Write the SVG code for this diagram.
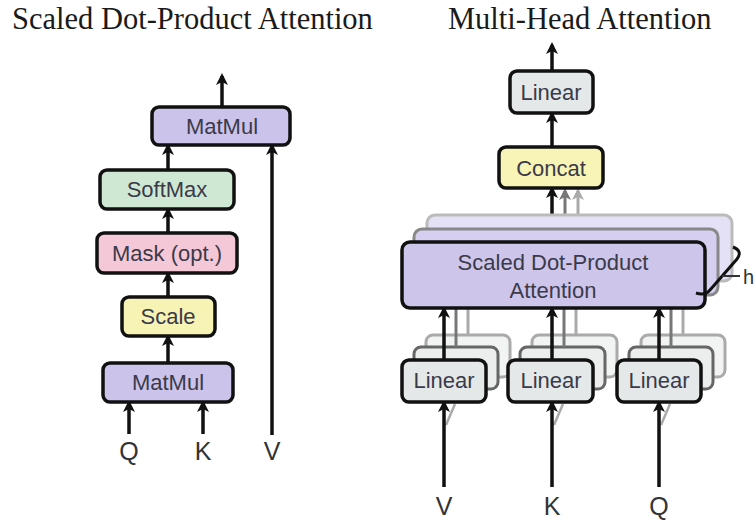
<svg xmlns="http://www.w3.org/2000/svg" width="756" height="523" viewBox="0 0 756 523">
<style>
.title{font-family:"Liberation Serif","Times New Roman",serif;font-size:30.5px;fill:#1a1a1a}
.lbl{font-family:"Liberation Sans",Arial,sans-serif;font-size:22px;fill:#3a3a4a;text-anchor:middle}
.io{font-family:"Liberation Sans",Arial,sans-serif;font-size:25px;fill:#333;text-anchor:middle}
.box{stroke:#111;stroke-width:3.5}
.arr{stroke:#111;stroke-width:3.5;fill:none;marker-end:url(#ah)}
.g1{stroke:#777;stroke-width:3;fill:none}
.g2{stroke:#aaa;stroke-width:3;fill:none}
.back1{fill:#d6cff0;stroke:#888;stroke-width:3}
.back2{fill:#e4e0f5;stroke:#bbb;stroke-width:3}
.lback1{fill:#eceeee;stroke:#666;stroke-width:3}
.lback2{fill:#f2f3f3;stroke:#aaa;stroke-width:3}
</style>
<defs>
<marker id="ah" markerUnits="userSpaceOnUse" markerWidth="12" markerHeight="12" refX="9" refY="6" orient="auto"><path d="M0,0 L12,6 L0,12 L3,6 z" fill="#111"/></marker>
<marker id="ahg1" markerUnits="userSpaceOnUse" markerWidth="12" markerHeight="12" refX="9" refY="6" orient="auto"><path d="M0,0 L12,6 L0,12 L3,6 z" fill="#777"/></marker>
<marker id="ahg2" markerUnits="userSpaceOnUse" markerWidth="12" markerHeight="12" refX="9" refY="6" orient="auto"><path d="M0,0 L12,6 L0,12 L3,6 z" fill="#aaa"/></marker>
</defs>
<rect width="756" height="523" fill="#fff"/>
<text class="title" x="12" y="29">Scaled Dot-Product Attention</text>
<text class="title" x="448" y="29">Multi-Head Attention</text>

<g id="connectors">
<line class="arr" x1="222" y1="107" x2="222" y2="76"/>
<line class="arr" x1="168" y1="170" x2="168" y2="146"/>
<line class="arr" x1="168" y1="233" x2="168" y2="210"/>
<line class="arr" x1="168" y1="297" x2="168" y2="274"/>
<line class="arr" x1="168" y1="363" x2="168" y2="337"/>
<line class="arr" x1="129" y1="434" x2="129" y2="403"/>
<line class="arr" x1="203" y1="434" x2="203" y2="403"/>
<line class="arr" x1="272" y1="435" x2="272" y2="146"/>

<line class="arr" x1="552" y1="71" x2="552" y2="45"/>
<line class="arr" x1="552" y1="147" x2="552" y2="114"/>
<line class="g2" x1="578" y1="215" x2="578" y2="191" marker-end="url(#ahg2)"/>
<line class="g1" x1="565" y1="228" x2="565" y2="191" marker-end="url(#ahg1)"/>
<line class="arr" x1="552" y1="242" x2="552" y2="189"/>
</g>

<g id="matmul-top"><rect class="box" x="152" y="107" width="138" height="38" rx="7" fill="#cbc3e9"/><text class="lbl" x="222" y="134">MatMul</text></g>
<g id="softmax"><rect class="box" x="100" y="170" width="134" height="39" rx="7" fill="#cfe8d3"/><text class="lbl" x="167" y="197">SoftMax</text></g>
<g id="mask"><rect class="box" x="97" y="233" width="140" height="40" rx="7" fill="#f5c8d7"/><text class="lbl" x="167" y="261">Mask (opt.)</text></g>
<g id="scale"><rect class="box" x="122" y="297" width="93" height="39" rx="7" fill="#f7f3b5"/><text class="lbl" x="168" y="324">Scale</text></g>
<g id="matmul-bottom"><rect class="box" x="103" y="363" width="130" height="39" rx="7" fill="#cbc3e9"/><text class="lbl" x="168" y="390">MatMul</text></g>
<text class="io" x="129" y="460">Q</text>
<text class="io" x="203" y="460">K</text>
<text class="io" x="272" y="460">V</text>

<g id="linear-top"><rect class="box" x="510" y="71" width="83" height="42" rx="7" fill="#e4e8e8"/><text class="lbl" x="551" y="100">Linear</text></g>
<g id="concat"><rect class="box" x="499" y="147" width="104" height="41" rx="7" fill="#f8f4b6"/><text class="lbl" x="551" y="176">Concat</text></g>

<g id="sdpa-stack">
<rect class="back2" x="427" y="215" width="305" height="66" rx="8"/>
<rect class="back1" x="414" y="229" width="304" height="66" rx="8"/>
</g>

<g id="linear-stacks">
<rect class="lback2" x="426" y="335" width="84" height="42" rx="7"/>
<rect class="lback1" x="414" y="347" width="84" height="42" rx="7"/>
<rect class="lback2" x="532" y="335" width="85" height="42" rx="7"/>
<rect class="lback1" x="520" y="347" width="85" height="42" rx="7"/>
<rect class="lback2" x="641" y="335" width="84" height="42" rx="7"/>
<rect class="lback1" x="629" y="347" width="84" height="42" rx="7"/>
</g>

<g id="head-connectors">
<line class="g2" x1="468" y1="335" x2="468" y2="300"/>
<line class="g1" x1="456" y1="347" x2="456" y2="300"/>
<line class="g2" x1="576" y1="335" x2="576" y2="300"/>
<line class="g1" x1="564" y1="347" x2="564" y2="300"/>
<line class="g2" x1="683" y1="335" x2="683" y2="300"/>
<line class="g1" x1="671" y1="347" x2="671" y2="300"/>
<line class="arr" x1="444" y1="360" x2="444" y2="309"/>
<line class="arr" x1="552" y1="360" x2="552" y2="309"/>
<line class="arr" x1="659" y1="360" x2="659" y2="309"/>
<line stroke="#aaa" stroke-width="2.5" x1="446" y1="425" x2="455" y2="404"/>
<line stroke="#aaa" stroke-width="2.5" x1="554" y1="425" x2="563" y2="404"/>
<line stroke="#aaa" stroke-width="2.5" x1="661" y1="425" x2="670" y2="404"/>
<line class="arr" x1="444" y1="487" x2="444" y2="403"/>
<line class="arr" x1="552" y1="487" x2="552" y2="403"/>
<line class="arr" x1="659" y1="487" x2="659" y2="403"/>
</g>

<g id="sdpa"><rect class="box" x="402" y="242" width="303" height="66" rx="8" fill="#cdc5ea"/><text class="lbl" x="553" y="270">Scaled Dot-Product</text><text class="lbl" x="553" y="298">Attention</text></g>

<g id="linear-v"><rect class="box" x="402" y="360" width="84" height="42" rx="7" fill="#e4e8e8"/><text class="lbl" x="444" y="388">Linear</text></g>
<g id="linear-k"><rect class="box" x="508" y="360" width="85" height="42" rx="7" fill="#e4e8e8"/><text class="lbl" x="551" y="388">Linear</text></g>
<g id="linear-q"><rect class="box" x="617" y="360" width="84" height="42" rx="7" fill="#e4e8e8"/><text class="lbl" x="659" y="388">Linear</text></g>

<g id="h-bracket">
<path d="M733,247 Q743,251 737,259 L710,290 Q705,296 696,293" fill="none" stroke="#111" stroke-width="3"/>
<line x1="722" y1="276" x2="740" y2="276" stroke="#333" stroke-width="2"/>
<text x="743" y="284" style="font-family:'Liberation Sans',Arial,sans-serif;font-size:20px;fill:#333">h</text>
</g>

<text class="io" x="444" y="515">V</text>
<text class="io" x="552" y="515">K</text>
<text class="io" x="659" y="515">Q</text>
</svg>
